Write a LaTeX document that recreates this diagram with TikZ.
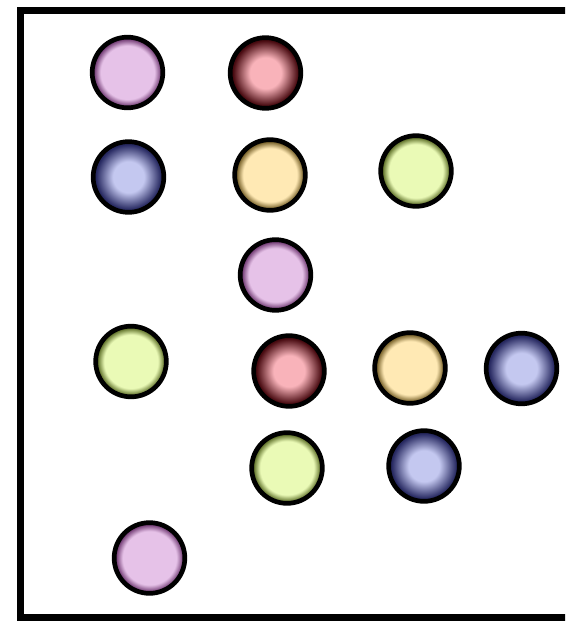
\documentclass[tikz,border=0pt]{standalone}
\usetikzlibrary{positioning}
\definecolor{BallPinkIn}{HTML}{E6C2E8}
\definecolor{BallPinkOut}{HTML}{5E2460}
\definecolor{BallRedIn}{HTML}{F9B3BA}
\definecolor{BallRedOut}{HTML}{480A10}
\definecolor{BallBlueIn}{HTML}{C4C8F0}
\definecolor{BallBlueOut}{HTML}{262860}
\definecolor{BallYellowIn}{HTML}{FFE9B4}
\definecolor{BallYellowOut}{HTML}{5E4810}
\definecolor{BallGreenIn}{HTML}{EAFAB6}
\definecolor{BallGreenOut}{HTML}{465810}
\colorlet{ballin}{white}
\colorlet{ballout}{black}
% the circle edge sits at 25bp of the shading
\pgfdeclareradialshading[ballin,ballout]{ballwide}{\pgfpointorigin}{color(0bp)=(ballin); color(11bp)=(ballin); color(23bp)=(ballout); color(50bp)=(ballout)}
\pgfdeclareradialshading[ballin,ballout]{ballnarrow}{\pgfpointorigin}{color(0bp)=(ballin); color(19bp)=(ballin); color(24.5bp)=(ballout); color(50bp)=(ballout)}

\begin{document}
\begin{tikzpicture}[x=0.03cm, y=-0.03cm,
  ball/.style={circle, draw=black, line width=0.14cm, minimum size=2.12cm, inner sep=0pt},
  pinkball/.style={ball, shading=ballnarrow, /utils/exec={\colorlet{ballin}{BallPinkIn}\colorlet{ballout}{BallPinkOut}}},
  redball/.style={ball, shading=ballwide, /utils/exec={\colorlet{ballin}{BallRedIn}\colorlet{ballout}{BallRedOut}}},
  blueball/.style={ball, shading=ballwide, /utils/exec={\colorlet{ballin}{BallBlueIn}\colorlet{ballout}{BallBlueOut}}},
  yellowball/.style={ball, shading=ballnarrow, /utils/exec={\colorlet{ballin}{BallYellowIn}\colorlet{ballout}{BallYellowOut}}},
  greenball/.style={ball, shading=ballnarrow, /utils/exec={\colorlet{ballin}{BallGreenIn}\colorlet{ballout}{BallGreenOut}}}
]
\useasboundingbox (0,0) rectangle (565,622);
\clip (0,0) rectangle (565,622);
\draw[line width=0.21cm] (20,11) rectangle (640,617);
\node[pinkball] (pink1) at (127.5,72.5) {};
\node[redball] (red1) at (265.5,73) {};
\node[blueball] (blue1) at (128.5,177) {};
\node[yellowball] (yellow1) at (270,175) {};
\node[greenball] (green1) at (416,171) {};
\node[pinkball] (pink2) at (275.5,275) {};
\node[greenball] (green2) at (131,361.5) {};
\node[redball] (red2) at (289,371) {};
\node[yellowball] (yellow2) at (410,368) {};
\node[blueball] (blue2) at (521.5,368.5) {};
\node[greenball] (green3) at (287,468) {};
\node[blueball] (blue3) at (424,466) {};
\node[pinkball] (pink3) at (149.5,558) {};
\end{tikzpicture}
\end{document}
